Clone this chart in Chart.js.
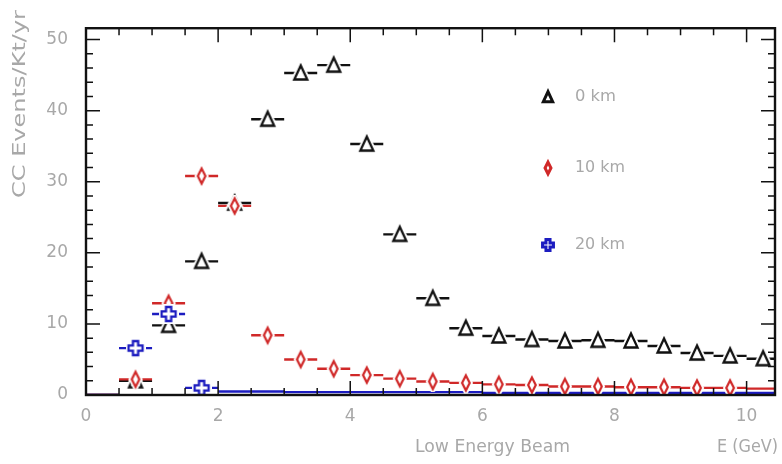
<!DOCTYPE html>
<html>
<head>
<meta charset="utf-8">
<script src="https://cdn.jsdelivr.net/npm/chart.js@4.4.1/dist/chart.umd.min.js"></script>
<style>
  html, body { margin: 0; background: #fff; }
  #wrap { width: 782px; height: 464px; }
</style>
</head>
<body>
<div id="wrap"><canvas id="c"></canvas></div>
<script>
// ================= DATA =================
const binWidth = 0.5;
const binCenters = [0.25, 0.75, 1.25, 1.75, 2.25, 2.75, 3.25, 3.75, 4.25, 4.75, 5.25,
                    5.75, 6.25, 6.75, 7.25, 7.75, 8.25, 8.75, 9.25, 9.75, 10.25];
const events0km  = [0, 2.0, 9.8, 18.8, 27.0, 38.8, 45.3, 46.4, 35.3, 22.6, 13.6,
                    9.4, 8.3, 7.8, 7.6, 7.7, 7.6, 6.9, 5.9, 5.5, 5.1];
const events10km = [0, 2.2, 12.9, 30.8, 26.6, 8.4, 5.0, 3.7, 2.8, 2.3, 1.9,
                    1.7, 1.5, 1.4, 1.2, 1.2, 1.1, 1.1, 1.0, 1.0, 0.9];
const events20km = [0, 6.6, 11.4, 1.0, 0.5, 0.5, 0.4, 0.4, 0.4, 0.4, 0.4,
                    0.4, 0.3, 0.3, 0.3, 0.3, 0.3, 0.3, 0.3, 0.3, 0.3];
// bins drawn as line only (no marker)
const noMarker0km  = [0];
const noMarker10km = [0, 20];
const noMarker20km = [0, 4, 5, 6, 7, 8, 9, 10, 11, 12, 13, 14, 15, 16, 17, 18, 19, 20];
const seriesNames = ["0 km", "10 km", "20 km"];
const xTickLabels = [0, 2, 4, 6, 8, 10];
const yTickLabels = [0, 10, 20, 30, 40, 50];
const xMax = 10.43, yMax = 51.6;

// ================= STYLE =================
const colBlack = "#111111", colRed = "#d02828", colBlue = "#1c1cc0";
const gray = "#a8a8a8";
const font = "'DejaVu Sans', sans-serif";

// ================= MARKERS =================
function makeMarker(w, h, color, lw, pathFn) {
    const cv = document.createElement("canvas");
    cv.width = w; cv.height = h;
    const c = cv.getContext("2d");
    c.lineJoin = "miter";
    pathFn(c); c.strokeStyle = "#fff"; c.lineWidth = 6; c.stroke();
    pathFn(c); c.fillStyle = "#fff"; c.fill();
    pathFn(c); c.strokeStyle = color; c.lineWidth = lw; c.stroke();
    return cv;
}
function triPath(s) {
    return c => {
        const m = 11;
        c.beginPath(); c.moveTo(m, m - 7.5 * s); c.lineTo(m - 6.5 * s, m + 6.5 * s);
        c.lineTo(m + 6.5 * s, m + 6.5 * s); c.closePath();
    };
}
function diaPath(s) {
    return c => {
        const mx = 8, my = 11;
        c.beginPath(); c.moveTo(mx, my - 7.5 * s); c.lineTo(mx + 3.8 * s, my);
        c.lineTo(mx, my + 7.5 * s); c.lineTo(mx - 3.8 * s, my); c.closePath();
    };
}
function plusPath(s) {
    return c => {
        const m = 10, a = 2.6 * s, r = 7 * s;
        c.beginPath();
        c.moveTo(m - a, m - r); c.lineTo(m + a, m - r); c.lineTo(m + a, m - a); c.lineTo(m + r, m - a);
        c.lineTo(m + r, m + a); c.lineTo(m + a, m + a); c.lineTo(m + a, m + r); c.lineTo(m - a, m + r);
        c.lineTo(m - a, m + a); c.lineTo(m - r, m + a); c.lineTo(m - r, m - a); c.lineTo(m - a, m - a);
        c.closePath();
    };
}
const triMark  = makeMarker(22, 22, colBlack, 2.3, triPath(1));
const diaMark  = makeMarker(16, 22, colRed, 2.2, diaPath(1));
const plusMark = makeMarker(20, 20, colBlue, 2.3, plusPath(1));
const triLeg   = makeMarker(22, 22, colBlack, 3, triPath(0.72));
const diaLeg   = makeMarker(16, 22, colRed, 3, diaPath(0.78));
const plusLeg  = makeMarker(20, 20, colBlue, 3, plusPath(0.78));

// ================= DATASETS =================
function barData(vals) {
    const out = [];
    binCenters.forEach((x, i) => {
        out.push({ x: x - binWidth / 2, y: vals[i] });
        out.push({ x: x + binWidth / 2, y: vals[i] });
        out.push({ x: x + binWidth / 2, y: null });
    });
    return out;
}
function barSet(vals, color, order) {
    return { type: "line", data: barData(vals), borderColor: color, borderWidth: 2.4,
             pointRadius: 0, spanGaps: false, tension: 0, fill: false, order };
}
function markSet(vals, mark, hidden, order) {
    return { type: "scatter", data: binCenters.map((x, i) => ({ x, y: vals[i] })),
             pointStyle: mark, pointRadius: ctx => hidden.includes(ctx.dataIndex) ? 0 : 6,
             pointHoverRadius: 6, order };
}

// stretch a text horizontally to a given width (the original uses a wide font)
function fitText(ctx, text, x, y, width) {
    const w = ctx.measureText(text).width;
    ctx.save();
    ctx.translate(x, y);
    ctx.scale(width / w, 1);
    ctx.fillText(text, 0, 0);
    ctx.restore();
}

// ================= DECOR PLUGIN =================
const decor = {
    id: "decor",
    afterDatasetsDraw(chart) {
        const { ctx, chartArea: a, scales: { x, y } } = chart;
        ctx.save();
        ctx.strokeStyle = "#111";
        ctx.lineWidth = 1.5;
        ctx.beginPath();
        for (let v = 0; v <= xMax + 1e-9; v += 0.5) {
            const px = x.getPixelForValue(v);
            const len = (v % 2 === 0) ? 14 : 7;
            ctx.moveTo(px, a.top); ctx.lineTo(px, a.top + len);
            ctx.moveTo(px, a.bottom); ctx.lineTo(px, a.bottom - len);
        }
        for (let v = 0; v <= yMax + 1e-9; v += 2) {
            const py = y.getPixelForValue(v);
            const len = (v % 10 === 0) ? 14 : 7;
            ctx.moveTo(a.left, py); ctx.lineTo(a.left + len, py);
            ctx.moveTo(a.right, py); ctx.lineTo(a.right - len, py);
        }
        ctx.stroke();
        ctx.lineWidth = 2.4;
        ctx.strokeRect(a.left, a.top, a.right - a.left, a.bottom - a.top);

        // legend
        const marks = [triLeg, diaLeg, plusLeg];
        const ly = [97, 168, 245];
        ctx.fillStyle = gray;
        ctx.font = "16px " + font;
        ctx.textBaseline = "middle";
        ctx.textAlign = "left";
        const lw = [41, 50, 50];
        marks.forEach((m, i) => {
            ctx.drawImage(m, 548 - m.width / 2, ly[i] - m.height / 2);
            fitText(ctx, seriesNames[i], 575, ly[i], lw[i]);
        });

        // axis titles
        ctx.font = "17px " + font;
        fitText(ctx, "Low Energy Beam", 415, 448, 155);
        fitText(ctx, "E (GeV)", 717, 448, 61);
        ctx.translate(20, 198);
        ctx.rotate(-Math.PI / 2);
        ctx.font = "18px " + font;
        fitText(ctx, "CC Events/Kt/yr", 0, 0, 188);
        ctx.restore();
    }
};

// ================= CHART =================
new Chart(document.getElementById("c"), {
    data: {
        datasets: [
            markSet(events20km, plusMark, noMarker20km, 0),
            markSet(events10km, diaMark, noMarker10km, 1),
            markSet(events0km, triMark, noMarker0km, 2),
            barSet(events20km, colBlue, 3),
            barSet(events10km, colRed, 4),
            barSet(events0km, colBlack, 5)
        ]
    },
    options: {
        responsive: true,
        maintainAspectRatio: false,
        animation: false,
        layout: { padding: { top: 8, right: 1, left: 0, bottom: 0 } },
        plugins: { legend: { display: false }, tooltip: { enabled: false } },
        scales: {
            x: {
                type: "linear", min: 0, max: xMax,
                grid: { display: false, drawTicks: false },
                border: { display: false },
                afterBuildTicks: s => { s.ticks = xTickLabels.map(v => ({ value: v })); },
                afterFit: s => { s.height = 69; },
                ticks: { color: gray, font: { family: font, size: 17 }, padding: 11 }
            },
            y: {
                type: "linear", min: 0, max: yMax,
                grid: { display: false, drawTicks: false },
                border: { display: false },
                afterBuildTicks: s => { s.ticks = yTickLabels.map(v => ({ value: v })); },
                afterFit: s => { s.width = 86; },
                ticks: { color: gray, font: { family: font, size: 17 }, padding: 18 }
            }
        }
    },
    plugins: [decor]
});
</script>
</body>
</html>
